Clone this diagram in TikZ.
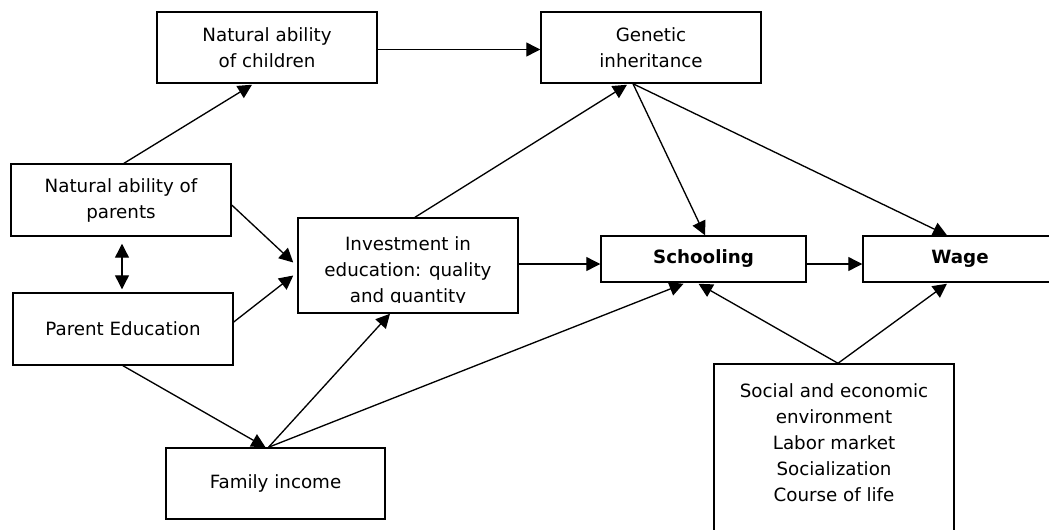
\documentclass[tikz,border=0pt]{standalone}
\usepackage{fontspec}
\setmainfont{DejaVu Sans}
\usepackage{tikz}
\usetikzlibrary{arrows.meta,calc}
\tikzstyle{box}=[draw, line width=1.1pt, align=center, inner sep=0pt, minimum width=165pt, minimum height=53.25pt]
\tikzstyle{arrow}=[line width=1pt, >={Triangle[length=10.5pt,width=10.5pt]}]

\begin{document}
\begin{tikzpicture}[x=0.75pt, y=-0.75pt, font=\fontsize{13.7}{19.5}\selectfont]
		   \useasboundingbox (0,0) rectangle (1049,529);
		   \clip (0,0) rectangle (1049,529);
		   \begin{scope}
			   \node (children) at (267, 47.5)[box] {Natural ability\\of children};
			   \node (genetic) at (651, 47.5)[box] {Genetic\\inheritance};
			   \node (parents) at (121, 200)[box, minimum height=54pt] {Natural ability of\\parents};
			   \node (parentedu) at (123, 329)[box, minimum height=54pt] {Parent Education};
			   \node (invest) at (408, 265.5)[box, minimum height=71.25pt] {};
			   \node (schooling) at (703.5, 259)[box, minimum width=153.75pt, minimum height=34.5pt] {\textbf{Schooling}};
			   \node (wage) at (960, 259)[box, minimum width=145.5pt, minimum height=34.5pt] {\textbf{Wage}};
			   \node (family) at (275.5, 483.5)[box, minimum width=164.25pt] {Family income};
			   \node (social) at (834, 462)[box, minimum width=180pt, minimum height=147pt,
				   label={[align=center, anchor=north, yshift=-12pt]north:Social and economic\\environment\\Labor market\\Socialization\\Course of life}] {};
		   \end{scope}
		   \begin{scope}
			   \clip (298, 218) rectangle (518, 302);
			   \node (investtext) at (408, 271)[align=center] {Investment in\\education: quality\\and quantity};
		   \end{scope}
		   \begin{scope}
			   \path [arrow, ->] ($(parents.north)+(3,0)$) edge ($(children.south)+(-15,1)$);
			   \path [arrow, ->] ($(children.east)+(0,2)$) edge ($(genetic.west)+(0,2)$);
			   \path [arrow, <->] ($(parents.south)+(1,7)$) edge ($(parentedu.north)+(-1,-3)$);
			   \path [arrow, ->] ($(parents.east)+(0,5)$) edge ($(invest.west)+(-4,-3)$);
			   \path [arrow, ->] ($(parentedu.east)+(0,-7)$) edge ($(invest.west)+(-4,10)$);
			   \path [arrow, ->] ($(invest.north)+(7,0)$) edge ($(genetic.south)+(-24,1)$);
			   \path [arrow, ->] ($(genetic.south)+(-18,0)$) edge ($(schooling.north)+(1.5,0)$);
			   \path [arrow, ->] ($(genetic.south)+(-18,0)$) edge ($(wage.north)+(-13,0)$);
			   \path [arrow, ->] ($(invest.east)+(0,-1.5)$) edge ($(schooling.west)+(0,5)$);
			   \path [arrow, ->] ($(schooling.east)+(0,5)$) edge ($(wage.west)+(0,5)$);
			   \path [arrow, ->] (parentedu.south) edge ($(family.north)+(-10,0)$);
			   \path [arrow, ->] ($(family.north)+(-7,0)$) edge ($(invest.south)+(-18,0)$);
			   \path [arrow, ->] ($(family.north)+(-7,0)$) edge ($(schooling.south)+(-20,1)$);
			   \path [arrow, ->] ($(social.north)+(4,0)$) edge ($(schooling.south)+(-5,1)$);
			   \path [arrow, ->] ($(social.north)+(4,0)$) edge ($(wage.south)+(-13,1)$);
		   \end{scope}
	   \end{tikzpicture}
\end{document}
